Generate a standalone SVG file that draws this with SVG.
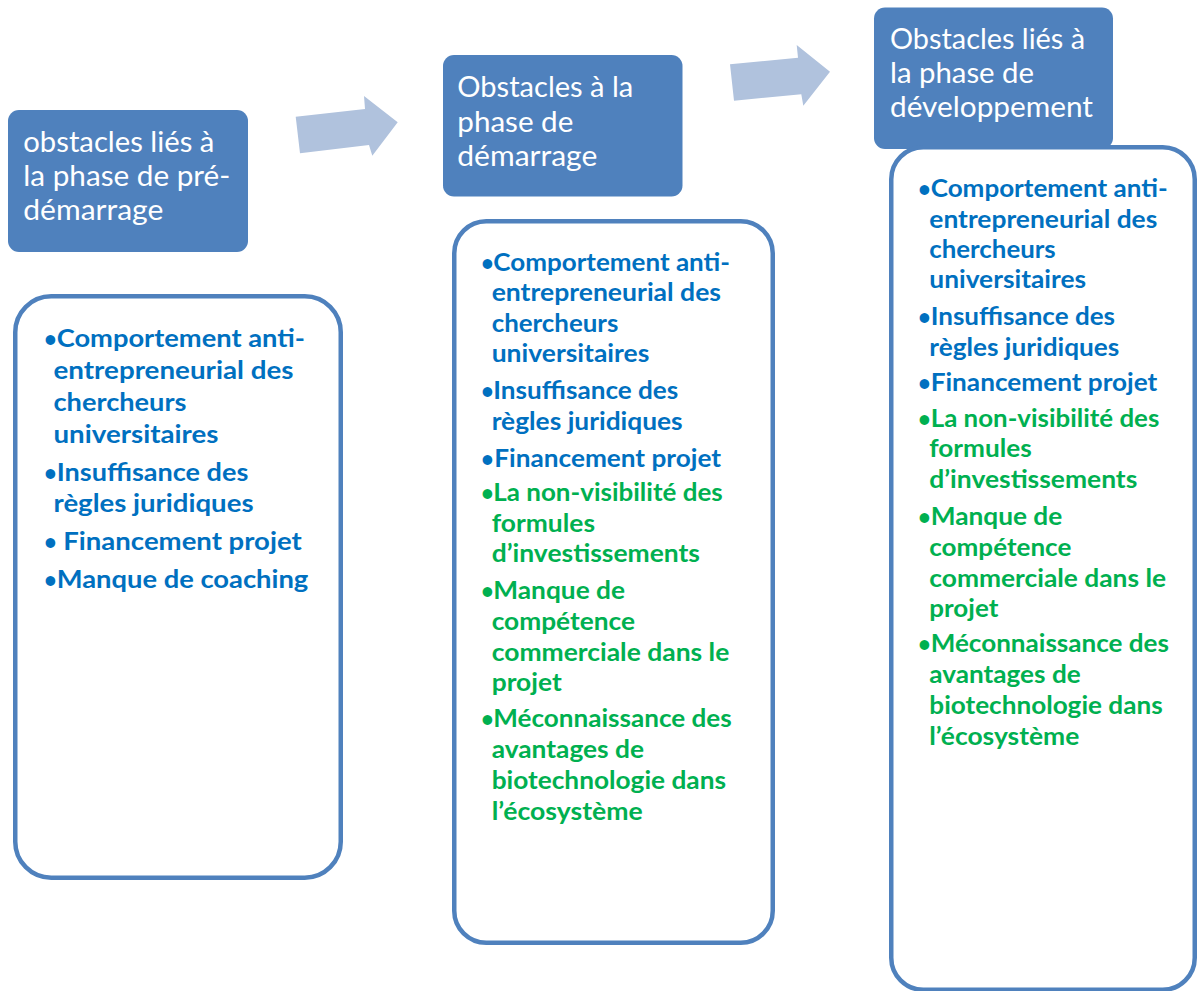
<svg xmlns="http://www.w3.org/2000/svg" width="1198" height="991" viewBox="0 0 1198 991">
<style>
.hdr{fill:#4F81BD}
.hdrtxt{font-family:Lato,"Open Sans","Liberation Sans",sans-serif;font-size:29px;fill:#FFFFFF}
.list{fill:#FFFFFF;stroke:#4F81BD;stroke-width:4.5}
.it{font-family:Lato,"Open Sans","Liberation Sans",sans-serif;font-weight:bold;font-size:25px}
.it2{font-family:Lato,"Open Sans","Liberation Sans",sans-serif;font-weight:bold;font-size:24px}
.bu{font-size:22px}
.b{fill:#0070C0}
.g{fill:#00B050}
.arrow{fill:#B0C2DD}
</style>
<rect width="1198" height="991" fill="#FFFFFF"/>
<g id="connectors">
<polygon class="arrow" points="295.7,116.7 365,109 364,96 397.7,122.3 372.3,155.7 369,145 300,153.3"/>
<polygon class="arrow" points="730,64.3 798,57.7 796.7,45 830,71.7 803.3,105.7 801.3,94.3 734,100.7"/>
</g>
<g id="node-predemarrage">
<rect class="hdr" x="8" y="110" width="240" height="142" rx="11"/>
<text class="hdrtxt" x="23.3" y="152" textLength="191" lengthAdjust="spacingAndGlyphs">obstacles liés à</text>
<text class="hdrtxt" x="23.3" y="186" textLength="207" lengthAdjust="spacingAndGlyphs">la phase de pré-</text>
<text class="hdrtxt" x="23.3" y="220" textLength="140" lengthAdjust="spacingAndGlyphs">démarrage</text>
</g>
<g id="list-predemarrage">
<rect class="list" x="15.25" y="296.25" width="325.5" height="581.5" rx="36"/>
<text class="it b" y="347"><tspan class="bu" x="44">•</tspan><tspan x="56.7" textLength="248.3" lengthAdjust="spacingAndGlyphs">Comportement anti-</tspan></text>
<text class="it b" x="53.5" y="379" textLength="240" lengthAdjust="spacingAndGlyphs">entrepreneurial des</text>
<text class="it b" x="53.5" y="411" textLength="133" lengthAdjust="spacingAndGlyphs">chercheurs</text>
<text class="it b" x="53.5" y="443" textLength="165" lengthAdjust="spacingAndGlyphs">universitaires</text>
<text class="it b" y="481"><tspan class="bu" x="44">•</tspan><tspan x="56.7" textLength="191.6" lengthAdjust="spacingAndGlyphs">Insuffisance des</tspan></text>
<text class="it b" x="53.5" y="512" textLength="200" lengthAdjust="spacingAndGlyphs">règles juridiques</text>
<text class="it b" y="550"><tspan class="bu" x="44">•</tspan><tspan x="63.3" textLength="238.4" lengthAdjust="spacingAndGlyphs">Financement projet</tspan></text>
<text class="it b" y="588"><tspan class="bu" x="44">•</tspan><tspan x="56.7" textLength="251.6" lengthAdjust="spacingAndGlyphs">Manque de coaching</tspan></text>
</g>
<g id="node-demarrage">
<rect class="hdr" x="443" y="55" width="239.5" height="141.5" rx="11"/>
<text class="hdrtxt" x="457.3" y="97" textLength="176" lengthAdjust="spacingAndGlyphs">Obstacles à la</text>
<text class="hdrtxt" x="457.3" y="131.5" textLength="116" lengthAdjust="spacingAndGlyphs">phase de</text>
<text class="hdrtxt" x="457.3" y="166" textLength="140" lengthAdjust="spacingAndGlyphs">démarrage</text>
</g>
<g id="list-demarrage">
<rect class="list" x="454.25" y="221.25" width="318.5" height="721.5" rx="32"/>
<text class="it2 b" y="270.5"><tspan class="bu" x="481">•</tspan><tspan x="493.3" textLength="236.7" lengthAdjust="spacingAndGlyphs">Comportement anti-</tspan></text>
<text class="it2 b" x="491.7" y="301" textLength="229.3" lengthAdjust="spacingAndGlyphs">entrepreneurial des</text>
<text class="it2 b" x="491.7" y="331.5" textLength="126.6" lengthAdjust="spacingAndGlyphs">chercheurs</text>
<text class="it2 b" x="491.7" y="362" textLength="157.6" lengthAdjust="spacingAndGlyphs">universitaires</text>
<text class="it2 b" y="399"><tspan class="bu" x="481">•</tspan><tspan x="493.3" textLength="185" lengthAdjust="spacingAndGlyphs">Insuffisance des</tspan></text>
<text class="it2 b" x="491.7" y="429.5" textLength="191" lengthAdjust="spacingAndGlyphs">règles juridiques</text>
<text class="it2 b" y="466.5"><tspan class="bu" x="481">•</tspan><tspan x="494.3" textLength="226.7" lengthAdjust="spacingAndGlyphs">Financement projet</tspan></text>
<text class="it2 g" y="501"><tspan class="bu" x="481">•</tspan><tspan x="493.3" textLength="229.4" lengthAdjust="spacingAndGlyphs">La non-visibilité des</tspan></text>
<text class="it2 g" x="491.7" y="531.5" textLength="103.3" lengthAdjust="spacingAndGlyphs">formules</text>
<text class="it2 g" x="491.7" y="562" textLength="208.3" lengthAdjust="spacingAndGlyphs">d’investissements</text>
<text class="it2 g" y="599"><tspan class="bu" x="481">•</tspan><tspan x="493.3" textLength="131.7" lengthAdjust="spacingAndGlyphs">Manque de</tspan></text>
<text class="it2 g" x="491.7" y="630" textLength="143.3" lengthAdjust="spacingAndGlyphs">compétence</text>
<text class="it2 g" x="491.7" y="660.5" textLength="237.6" lengthAdjust="spacingAndGlyphs">commerciale dans le</text>
<text class="it2 g" x="491.7" y="691" textLength="70" lengthAdjust="spacingAndGlyphs">projet</text>
<text class="it2 g" y="726.5"><tspan class="bu" x="481">•</tspan><tspan x="493.3" textLength="238.4" lengthAdjust="spacingAndGlyphs">Méconnaissance des</tspan></text>
<text class="it2 g" x="491.7" y="757.5" textLength="152.3" lengthAdjust="spacingAndGlyphs">avantages de</text>
<text class="it2 g" x="491.7" y="788.5" textLength="234.3" lengthAdjust="spacingAndGlyphs">biotechnologie dans</text>
<text class="it2 g" x="491.7" y="819.5" textLength="151" lengthAdjust="spacingAndGlyphs">l’écosystème</text>
</g>
<g id="node-developpement">
<rect class="hdr" x="874" y="7.5" width="239" height="141.5" rx="11"/>
<text class="hdrtxt" x="890" y="49.3" textLength="195" lengthAdjust="spacingAndGlyphs">Obstacles liés à</text>
<text class="hdrtxt" x="890" y="83.3" textLength="144" lengthAdjust="spacingAndGlyphs">la phase de</text>
<text class="hdrtxt" x="890" y="117.3" textLength="203" lengthAdjust="spacingAndGlyphs">développement</text>
</g>
<g id="list-developpement">
<rect class="list" x="891.25" y="147.25" width="303.5" height="842.5" rx="32"/>
<text class="it2 b" y="196.5"><tspan class="bu" x="918">•</tspan><tspan x="930.7" textLength="237" lengthAdjust="spacingAndGlyphs">Comportement anti-</tspan></text>
<text class="it2 b" x="929.3" y="227.5" textLength="228" lengthAdjust="spacingAndGlyphs">entrepreneurial des</text>
<text class="it2 b" x="929.3" y="257.5" textLength="126.4" lengthAdjust="spacingAndGlyphs">chercheurs</text>
<text class="it2 b" x="929.3" y="288" textLength="156.7" lengthAdjust="spacingAndGlyphs">universitaires</text>
<text class="it2 b" y="325"><tspan class="bu" x="918">•</tspan><tspan x="930.7" textLength="184.3" lengthAdjust="spacingAndGlyphs">Insuffisance des</tspan></text>
<text class="it2 b" x="929.3" y="355.5" textLength="190" lengthAdjust="spacingAndGlyphs">règles juridiques</text>
<text class="it2 b" y="391"><tspan class="bu" x="918">•</tspan><tspan x="930.7" textLength="226.6" lengthAdjust="spacingAndGlyphs">Financement projet</tspan></text>
<text class="it2 g" y="427"><tspan class="bu" x="918">•</tspan><tspan x="930.7" textLength="228.6" lengthAdjust="spacingAndGlyphs">La non-visibilité des</tspan></text>
<text class="it2 g" x="929.3" y="457" textLength="102.4" lengthAdjust="spacingAndGlyphs">formules</text>
<text class="it2 g" x="929.3" y="487.5" textLength="208" lengthAdjust="spacingAndGlyphs">d’investissements</text>
<text class="it2 g" y="525"><tspan class="bu" x="918">•</tspan><tspan x="930.7" textLength="131.6" lengthAdjust="spacingAndGlyphs">Manque de</tspan></text>
<text class="it2 g" x="929.3" y="556" textLength="142" lengthAdjust="spacingAndGlyphs">compétence</text>
<text class="it2 g" x="929.3" y="586.5" textLength="236.7" lengthAdjust="spacingAndGlyphs">commerciale dans le</text>
<text class="it2 g" x="929.3" y="616.5" textLength="69" lengthAdjust="spacingAndGlyphs">projet</text>
<text class="it2 g" y="652"><tspan class="bu" x="918">•</tspan><tspan x="930.7" textLength="238.3" lengthAdjust="spacingAndGlyphs">Méconnaissance des</tspan></text>
<text class="it2 g" x="929.3" y="683" textLength="151.4" lengthAdjust="spacingAndGlyphs">avantages de</text>
<text class="it2 g" x="929.3" y="714" textLength="233.4" lengthAdjust="spacingAndGlyphs">biotechnologie dans</text>
<text class="it2 g" x="929.3" y="744.5" textLength="150" lengthAdjust="spacingAndGlyphs">l’écosystème</text>
</g>
</svg>
